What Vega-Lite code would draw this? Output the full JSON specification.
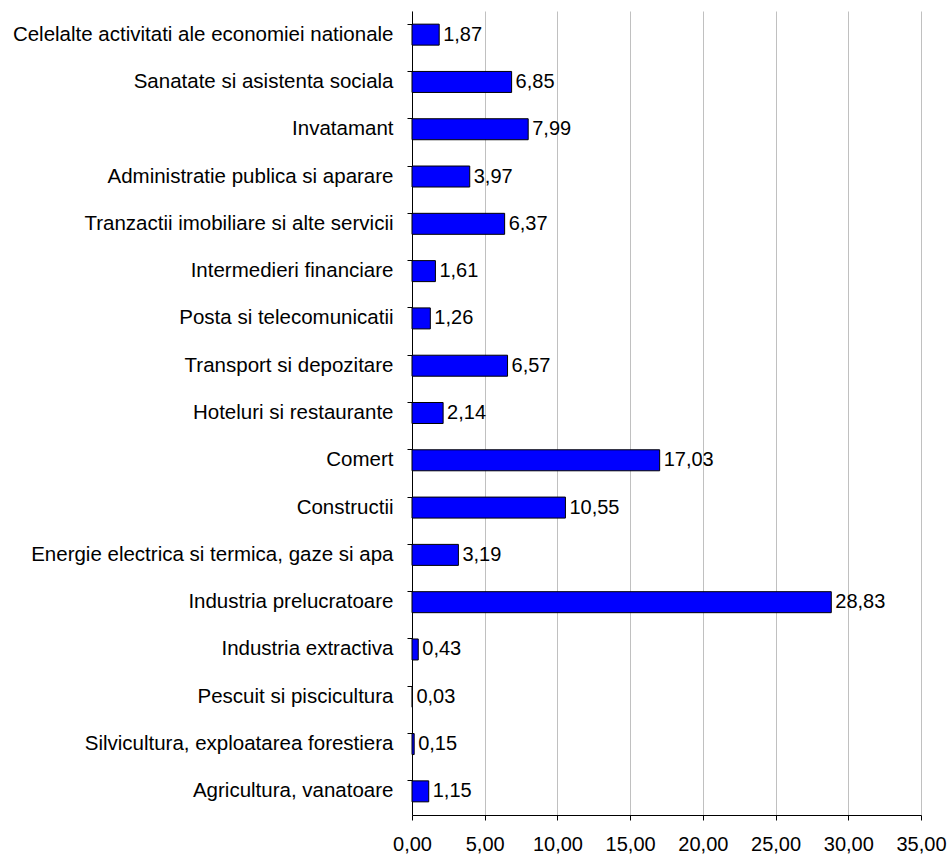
{
  "$schema": "https://vega.github.io/schema/vega-lite/v6.json",
  "width": 509,
  "height": 804,
  "autosize": {"type": "none"},
  "padding": {"left": 412, "top": 11, "right": 26, "bottom": 43},
  "background": "white",
  "config": {
    "locale": {"number": {"decimal": ",", "thousands": ".", "grouping": [3], "currency": ["", ""]}},
    "view": {"stroke": null},
    "font": "Liberation Sans"
  },
  "data": {
    "values": [
      {"sector": "Celelalte activitati ale economiei nationale", "value": 1.87},
      {"sector": "Sanatate si asistenta sociala", "value": 6.85},
      {"sector": "Invatamant", "value": 7.99},
      {"sector": "Administratie publica si aparare", "value": 3.97},
      {"sector": "Tranzactii imobiliare si alte servicii", "value": 6.37},
      {"sector": "Intermedieri financiare", "value": 1.61},
      {"sector": "Posta si telecomunicatii", "value": 1.26},
      {"sector": "Transport si depozitare", "value": 6.57},
      {"sector": "Hoteluri si restaurante", "value": 2.14},
      {"sector": "Comert", "value": 17.03},
      {"sector": "Constructii", "value": 10.55},
      {"sector": "Energie electrica si termica, gaze si apa", "value": 3.19},
      {"sector": "Industria prelucratoare", "value": 28.83},
      {"sector": "Industria extractiva", "value": 0.43},
      {"sector": "Pescuit si piscicultura", "value": 0.03},
      {"sector": "Silvicultura, exploatarea forestiera", "value": 0.15},
      {"sector": "Agricultura, vanatoare", "value": 1.15}
    ]
  },
  "encoding": {
    "y": {
      "field": "sector",
      "type": "nominal",
      "sort": null,
      "scale": {"paddingInner": 0.556, "paddingOuter": 0.278},
      "axis": {
        "title": null,
        "domainColor": "black",
        "tickColor": "black",
        "tickSize": 5,
        "bandPosition": 0,
        "labelFontSize": 20.5,
        "labelColor": "black",
        "labelPadding": 14,
        "labelLimit": 420,
        "grid": false
      }
    }
  },
  "layer": [
    {
      "mark": {"type": "bar", "color": "#0000FF", "stroke": "black", "strokeWidth": 1},
      "encoding": {
        "x": {
          "field": "value",
          "type": "quantitative",
          "scale": {"domain": [0, 35], "nice": false},
          "axis": {
            "title": null,
            "values": [0, 5, 10, 15, 20, 25, 30, 35],
            "format": ".2f",
            "grid": true,
            "gridColor": "#c0c0c0",
            "gridWidth": 1,
            "domainColor": "black",
            "tickColor": "black",
            "tickSize": 5,
            "labelFontSize": 20,
            "labelColor": "black",
            "labelPadding": 14,
            "labelFlush": false
          }
        }
      }
    },
    {
      "mark": {"type": "text", "align": "left", "dx": 4, "fontSize": 20, "color": "black"},
      "encoding": {
        "x": {"field": "value", "type": "quantitative"},
        "text": {"field": "value", "type": "quantitative", "format": ".2f"}
      }
    }
  ]
}
